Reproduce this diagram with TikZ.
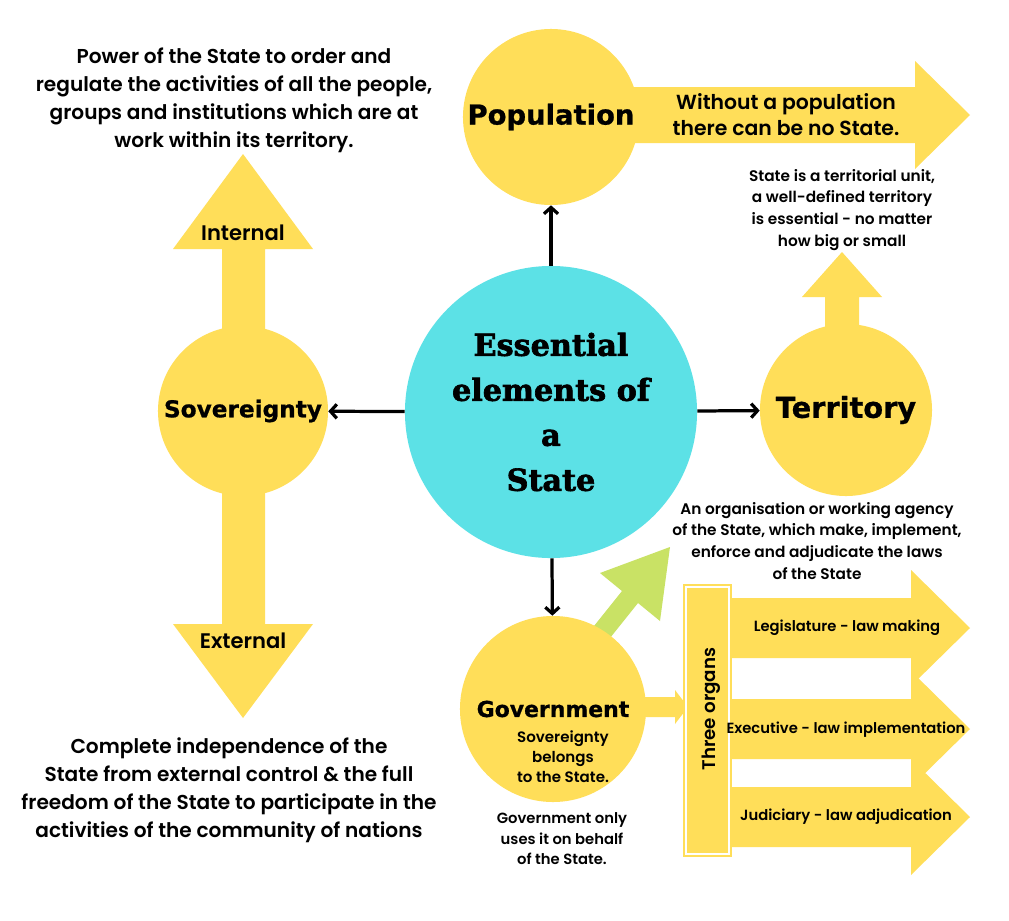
\documentclass[tikz,border=0pt]{standalone}
\usepackage{fontspec}
\usetikzlibrary{arrows.meta}
\definecolor{sunyellow}{HTML}{FFDE59}
\definecolor{skycyan}{HTML}{5CE1E6}
\definecolor{leafgreen}{HTML}{C9E265}
\newfontfamily\popfam{Poppins}
\newfontfamily\headfam{DejaVu Sans}[BoldFeatures={FakeBold=0.8}]
\newfontfamily\slabfam{DejaVu Serif}[BoldFeatures={FakeBold=2.2}]
\IfFontExistsTF{Poppins SemiBold}
  {\newfontfamily\txtfam{Poppins SemiBold}}
  {\IfFontExistsTF{Poppins Medium}
    {\newfontfamily\txtfam{Poppins Medium}}
    {\newcommand\txtfam{\popfam\bfseries}}}

\begin{document}
\begin{tikzpicture}[
    x=0.025cm,
    y=-0.025cm,
    >={Straight Barb[length=4.5pt,width=10pt]},
    disc/.style={circle,inner sep=0pt,fill=sunyellow},
    wire/.style={line width=2.3pt,->},
    bloc/.style={fill=sunyellow},
    headline/.style={font=\headfam\bfseries\fontsize{19.5}{22}\selectfont},
    blurb/.style={align=center,font=\txtfam\fontsize{14.3}{19.9}\selectfont},
    memo/.style={align=center,font=\txtfam\fontsize{10.9}{15.6}\selectfont},
    organ/.style={font=\txtfam\fontsize{10.5}{13}\selectfont}
]
    \useasboundingbox[fill=white] (0,0) rectangle (1009,921);

    % block arrows, behind the discs
    \path[bloc] (600,87) -- (915,87) -- (915,61) -- (970,115) -- (915,169)
        -- (915,143) -- (600,143) -- cycle;
    \path[bloc] (825,340) -- (825,297) -- (802,297) -- (842,252) -- (882,297)
        -- (859,297) -- (859,340) -- cycle;
    \path[bloc] (222,249) -- (173,249) -- (243,154) -- (313,249) -- (265,249)
        -- (265,624) -- (313,624) -- (243,718) -- (173,624) -- (222,624) -- cycle;
    \path[bloc] (725,598) -- (911,598) -- (911,570) -- (970,628) -- (911,686)
        -- (911,658) -- (725,658) -- cycle;
    \path[bloc] (725,699) -- (911,699) -- (911,671) -- (970,729) -- (911,787)
        -- (911,759) -- (725,759) -- cycle;
    \path[bloc] (725,787) -- (911,787) -- (911,759) -- (970,817) -- (911,875)
        -- (911,847) -- (725,847) -- cycle;
    \path[bloc] (640,697) -- (675,697) -- (675,690) -- (688,707) -- (675,724)
        -- (675,717) -- (640,717) -- cycle;
    \path[fill=leafgreen] (578,646) -- (622,591) -- (600,573) -- (670,547)
        -- (660,621) -- (638,603) -- (594,658) -- cycle;

    \fill[sunyellow] (683,584) rectangle (732,857);
    \draw[white,line width=0.8pt] (686,587) rectangle (729,854);

    % elements
    \node[disc,fill=skycyan,minimum size=7.3cm,align=center,
        font=\slabfam\bfseries\fontsize{21.5}{32}\selectfont]
        (state) at (551,412) {Essential\\elements of\\a\\State};
    \node[disc,headline,minimum size=4.4cm] (pop) at (551,117) {Population};
    \node[disc,minimum size=4.3cm,
        font=\headfam\bfseries\fontsize{20.5}{22}\selectfont]
        (terr) at (846,410) {Territory};
    \node[disc,minimum size=4.25cm,
        font=\headfam\bfseries\fontsize{16.5}{20}\selectfont]
        (sov) at (243,411) {Sovereignty};
    \node[disc,minimum size=4.65cm,
        font=\headfam\bfseries\fontsize{15.6}{19}\selectfont]
        (gov) at (553,709) {Government};

    \draw[wire] (state) -- (pop);
    \draw[wire] (state) -- (sov);
    \draw[wire] (state) -- (terr);
    \draw[wire] (state) -- (gov);

    % texts
    \node[blurb] (power) at (234,100)
        {Power of the State to order and\\regulate the activities of all the people,\\groups and institutions which are at\\work within its territory.};
    \node[blurb] (freedom) at (229,790)
        {Complete independence of the\\State from external control \& the full\\freedom of the State to participate in the\\activities of the community of nations};
    \node[blurb,font=\txtfam\fontsize{14.5}{18.5}\selectfont] (nopop) at (786,115)
        {Without a population\\there can be no State.};
    \node[memo] (land) at (842,210)
        {State is a territorial unit,\\a well-defined territory\\is essential - no matter\\how big or small};
    \node[memo] (agency) at (817,541)
        {An organisation or working agency\\of the State, which make, implement,\\enforce and adjudicate the laws\\of the State};
    \node[font=\txtfam\fontsize{15}{18}\selectfont] (internal) at (243,233) {Internal};
    \node[font=\txtfam\fontsize{15}{18}\selectfont] (external) at (243,641) {External};
    \node[align=center,font=\txtfam\fontsize{10.7}{14.2}\selectfont] (belongs) at (563,757)
        {Sovereignty\\belongs\\to the State.};
    \node[align=center,font=\txtfam\fontsize{10.5}{14.6}\selectfont] (behalf) at (562,839)
        {Government only\\uses it on behalf\\of the State.};
    \node[rotate=90,font=\txtfam\fontsize{13}{15}\selectfont] (organs) at (711,709) {Three organs};
    \node[organ] (legis) at (847,628) {Legislature - law making};
    \node[organ] (exec) at (846,730) {Executive - law implementation};
    \node[organ] (judi) at (846,817) {Judiciary - law adjudication};
\end{tikzpicture}
\end{document}
